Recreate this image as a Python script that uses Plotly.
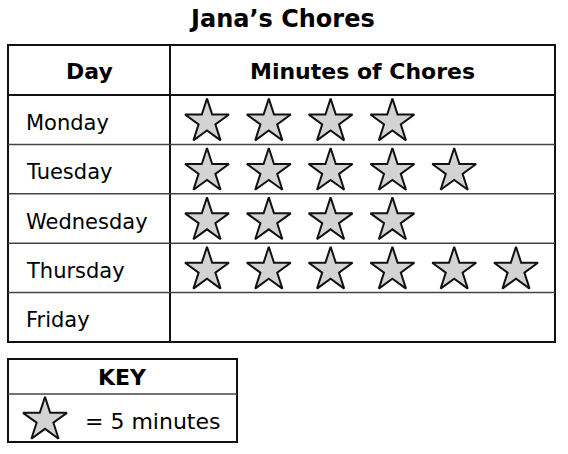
import plotly.graph_objects as go

# ---- data ----
title = "Jana’s Chores"
col_headers = ["Day", "Minutes of Chores"]
days = ["Monday", "Tuesday", "Wednesday", "Thursday", "Friday"]
minutes = [20, 25, 20, 30, 0]
minutes_per_star = 5
key_title = "KEY"
key_label = "= 5 minutes"

# ---- layout geometry (pixels) ----
W, H = 568, 454
tl, tr, tt, tb = 8, 555, 45, 342
head_b = 95
col_x = 170
row_h = (tb - head_b) / len(days)
star_x0, star_dx = 207, 61.8
star_size = 33
star_fill = "#d3d3d3"
key_l, key_r, key_t, key_b, key_mid = 8, 237, 359, 442, 394

FONT = "DejaVu Sans, Verdana, sans-serif"

fig = go.Figure()
shapes = []
line_black = dict(color="#111111", width=2)
line_row = dict(color="#444444", width=1.5)

# table frame
shapes.append(dict(type="rect", x0=tl, x1=tr, y0=tt, y1=tb, line=line_black))
shapes.append(dict(type="line", x0=tl, x1=tr, y0=head_b, y1=head_b, line=line_black))
shapes.append(dict(type="line", x0=col_x, x1=col_x, y0=tt, y1=tb, line=line_black))
for i in range(1, len(days)):
    y = head_b + i * row_h
    shapes.append(dict(type="line", x0=tl, x1=tr, y0=y, y1=y, line=line_row))

# key frame
shapes.append(dict(type="rect", x0=key_l, x1=key_r, y0=key_t, y1=key_b, line=line_black))
shapes.append(dict(type="line", x0=key_l, x1=key_r, y0=key_mid, y1=key_mid, line=line_row))

annotations = []
annotations.append(dict(x=(tl + tr) / 2, y=19, text="<b>%s</b>" % title, showarrow=False,
                        font=dict(family=FONT, size=24, color="black"), xanchor="center", yanchor="middle"))
annotations.append(dict(x=(tl + col_x) / 2, y=(tt + head_b) / 2 + 1, text="<b>%s</b>" % col_headers[0], showarrow=False,
                        font=dict(family=FONT, size=22, color="black"), xanchor="center", yanchor="middle"))
annotations.append(dict(x=(col_x + tr) / 2, y=(tt + head_b) / 2 + 1, text="<b>%s</b>" % col_headers[1], showarrow=False,
                        font=dict(family=FONT, size=22, color="black"), xanchor="center", yanchor="middle"))

sx, sy = [], []
for i, (d, m) in enumerate(zip(days, minutes)):
    cy = head_b + (i + 0.5) * row_h
    annotations.append(dict(x=tl + 16, y=cy + 3, text=d, showarrow=False,
                            font=dict(family=FONT, size=21, color="black"), xanchor="left", yanchor="middle"))
    for k in range(m // minutes_per_star):
        sx.append(star_x0 + k * star_dx)
        sy.append(cy + 2)

fig.add_trace(go.Scatter(x=sx, y=sy, mode="markers", hoverinfo="skip",
                         marker=dict(symbol="star", size=star_size, color=star_fill,
                                     line=dict(color="#111111", width=2))))

# key
annotations.append(dict(x=(key_l + key_r) / 2, y=(key_t + key_mid) / 2 + 1, text="<b>%s</b>" % key_title, showarrow=False,
                        font=dict(family=FONT, size=22, color="black"), xanchor="center", yanchor="middle"))
fig.add_trace(go.Scatter(x=[45], y=[(key_mid + key_b) / 2 + 2], mode="markers", hoverinfo="skip",
                         marker=dict(symbol="star", size=star_size, color=star_fill,
                                     line=dict(color="#111111", width=2))))
annotations.append(dict(x=83, y=(key_mid + key_b) / 2 + 3, text=key_label, showarrow=False,
                        font=dict(family=FONT, size=22, color="black"), xanchor="left", yanchor="middle"))

fig.update_layout(
    width=W, height=H, margin=dict(l=0, r=0, t=0, b=0),
    paper_bgcolor="white", plot_bgcolor="white", showlegend=False,
    xaxis=dict(range=[0, W], visible=False, fixedrange=True),
    yaxis=dict(range=[H, 0], visible=False, fixedrange=True),
    shapes=shapes, annotations=annotations,
)
fig.write_html("out.html", config={"displayModeBar": False},
               post_script="document.body.style.margin='0';document.body.style.overflow='hidden';")
